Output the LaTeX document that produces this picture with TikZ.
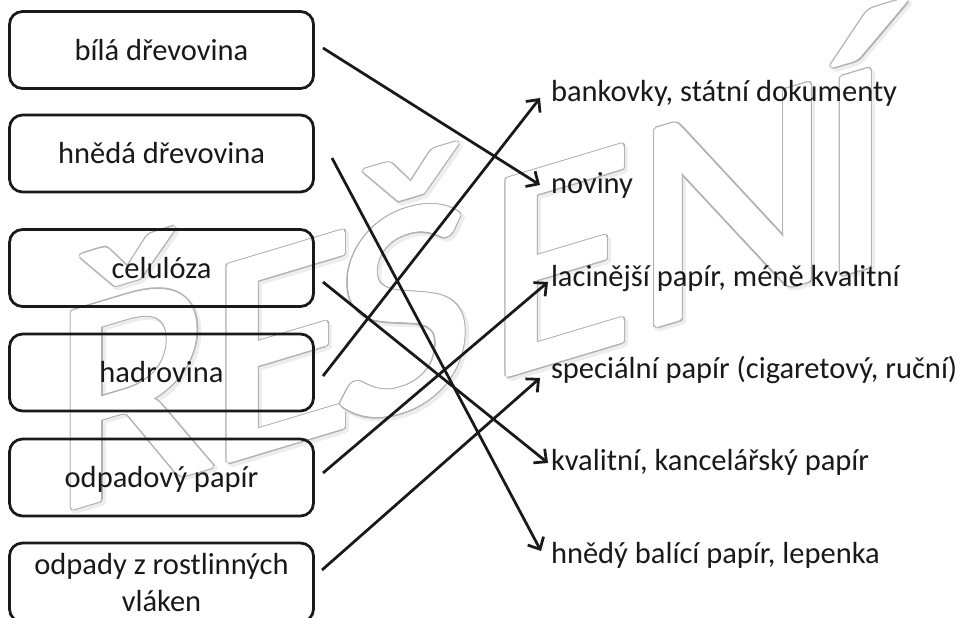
\documentclass[tikz,border=0pt]{standalone}
\usepackage{fontspec}
\setmainfont{Carlito}
\usetikzlibrary{arrows.meta,calc}
\tikzset{
  box/.style={draw=black!90, line width=2.75pt, rounded corners=13pt, minimum width=304pt,
    minimum height=77pt, inner sep=0pt, outer sep=0pt,
    font=\fontsize{30.5}{37}\selectfont, text=black!90},
  oneline/.style={text height=26.5pt, text depth=6.5pt},
  lbl/.style={anchor=west, inner sep=0pt, outer sep=0pt, font=\fontsize{30.5}{37}\selectfont,
    text=black!90, text height=21.5pt, text depth=6.5pt},
  arr/.style={draw=black!90, line width=2.75pt, -{Straight Barb[length=9.5pt,width=18pt]}},
  wm/.style={font=\fontsize{305}{305}\selectfont, anchor=base, inner sep=0pt, outer sep=0pt, yslant=0.3},
}
\newcommand\wmletter[4]{%
  \foreach \ang in {0,30,...,330}{
    \node[wm, text=black!7] (#1s\ang) at ($(#2,#3)+(2.5,2.5)+(\ang:3.6)$) {#4};
  }
  \foreach \ang in {0,30,...,330}{
    \node[wm, text=black!30] (#1o\ang) at ($(#2,#3)+(\ang:3.0)$) {#4};
  }
  \foreach \ang in {0,30,...,330}{
    \node[wm, text=white] (#1w\ang) at ($(#2,#3)+(\ang:1.6)$) {#4};
  }
  \node[wm, text=white] (#1) at (#2,#3) {#4};
}
\begin{document}
\begin{tikzpicture}[x=1pt,y=-1pt]
\useasboundingbox (0,0) rectangle (964,618);
\clip (0,0) rectangle (964,618);
\fill[white] (0,0) rectangle (964,618);

% watermark
\wmletter{wa}{134}{490}{Ř}
\wmletter{wb}{282}{446}{E}
\wmletter{wc}{404}{409}{Š}
\wmletter{wd}{561}{360}{E}
\wmletter{we}{733}{303}{N}
\wmletter{wf}{856}{270}{Í}

% left boxes
\node[box, oneline] (b1) at (161.5,50) {bílá dřevovina};
\node[box, oneline] (b2) at (161.5,153.5) {hnědá dřevovina};
\node[box, oneline] (b3) at (161.5,268) {celulóza};
\node[box, oneline] (b4) at (161.5,372.5) {hadrovina};
\node[box, oneline] (b5) at (161.5,477.5) {odpadový papír};
\node[box, align=center, minimum height=79pt] (b6) at (161.5,582.5) {odpady z rostlinných\\vláken};

% right labels
\node[lbl] (t1) at (551,94.5) {bankovky, státní dokumenty};
\node[lbl] (t2) at (551,185.5) {noviny};
\node[lbl] (t3) at (551,278.5) {lacinější papír, méně kvalitní};
\node[lbl] (t4) at (551,370.5) {speciální papír (cigaretový, ruční)};
\node[lbl] (t5) at (551,463) {kvalitní, kancelářský papír};
\node[lbl] (t6) at (551,555.5) {hnědý balící papír, lepenka};

% connector ends
\coordinate (s1) at ($(b1.east)+(9.5,-2)$);
\coordinate (s2) at ($(b2.east)+(18.5,4.5)$);
\coordinate (s3) at ($(b3.east)+(9.5,14)$);
\coordinate (s4) at ($(b4.east)+(9.5,3.5)$);
\coordinate (s5) at ($(b5.east)+(9.5,-4.5)$);
\coordinate (s6) at ($(b6.east)+(8.5,-12.5)$);
\coordinate (e1) at ($(t2.west)+(-11,-0.5)$);
\coordinate (e2) at ($(t6.west)+(-10,-4.5)$);
\coordinate (e3) at ($(t5.west)+(-3,0)$);
\coordinate (e4) at ($(t1.west)+(-11,3.5)$);
\coordinate (e5) at ($(t3.west)+(-3,3.5)$);
\coordinate (e6) at ($(t4.west)+(-11,7.5)$);

\draw[arr] (s1) -- (e1);
\draw[arr] (s2) -- (e2);
\draw[arr] (s3) -- (e3);
\draw[arr] (s4) -- (e4);
\draw[arr] (s5) -- (e5);
\draw[arr] (s6) -- (e6);
\end{tikzpicture}
\end{document}
